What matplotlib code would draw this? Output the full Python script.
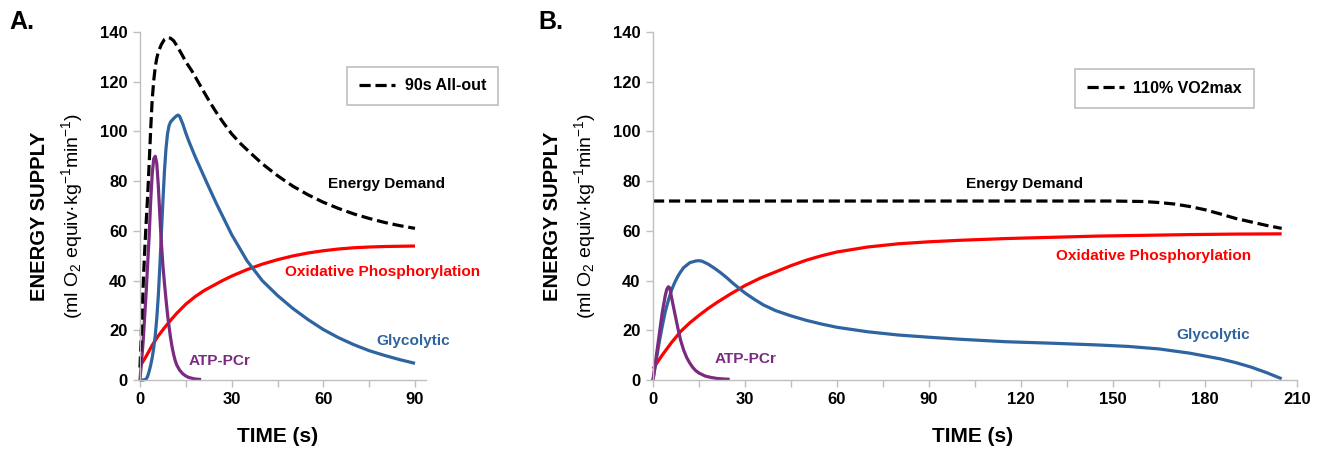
import matplotlib
matplotlib.use("Agg")
import matplotlib.pyplot as plt
from matplotlib.lines import Line2D

plt.rcParams['font.family'] = ['Liberation Sans', 'DejaVu Sans']
plt.rcParams['mathtext.fontset'] = 'custom'
plt.rcParams['mathtext.rm'] = 'Liberation Sans'
plt.rcParams['mathtext.it'] = 'Liberation Sans:italic'
plt.rcParams['mathtext.bf'] = 'Liberation Sans:bold'

# ---------------- Panel A data (90s All-out) ----------------
a_demand_t = [0, 0.5, 1, 1.5, 2, 2.5, 3, 3.5, 4, 4.5, 5, 5.5, 6, 7, 8, 9, 10, 11, 12, 13, 14, 15, 17, 19, 21, 23, 25, 27, 30, 33, 36, 40, 45, 50, 55, 60, 65, 70, 75, 80, 85, 90]
a_demand_v = [5, 21, 37, 51, 63, 74, 87, 101, 113, 120.5, 126, 129.5, 132, 135, 137, 137.8, 137.5, 136.5, 134.6, 132.5, 130.3, 128, 124.3, 120, 115.7, 111.5, 107.6, 104, 99, 95, 91.5, 87, 82.2, 78, 74.5, 71.5, 69, 66.8, 65, 63.4, 62.1, 61]

a_gly_t = [0, 1, 2, 2.5, 3, 3.5, 4, 4.5, 5, 5.5, 6, 6.5, 7, 7.5, 8, 8.5, 9, 9.5, 10, 11, 12, 12.5, 13, 14, 15, 16, 18, 20, 22, 25, 28, 30, 35, 40, 45, 50, 55, 60, 65, 70, 75, 80, 85, 90]
a_gly_v = [0, 0, 0.3, 1.5, 3.5, 6, 9, 13, 18, 25, 34, 46, 59, 72, 84, 93, 99, 102.3, 103.8, 105.2, 106.3, 106.6, 106, 103, 99.3, 96, 90, 84.5, 79, 71, 63.5, 58.5, 48, 40, 34, 28.8, 24.3, 20.3, 17, 14.2, 11.8, 9.9, 8.2, 6.7]

a_oxi_t = [0, 2, 4, 6, 8, 10, 12, 15, 18, 21, 24, 27, 30, 35, 40, 45, 50, 55, 60, 65, 70, 75, 80, 85, 90]
a_oxi_v = [5.5, 9.5, 14, 17.8, 21, 24, 26.8, 30.5, 33.5, 36, 38, 40, 41.8, 44.4, 46.6, 48.4, 49.9, 51.1, 52, 52.7, 53.2, 53.5, 53.7, 53.8, 53.9]

a_atp_t = [0, 1, 2, 3, 3.5, 4, 4.5, 5, 5.5, 6, 6.5, 7, 7.5, 8, 8.5, 9, 9.5, 10, 10.5, 11, 11.5, 12, 13, 14, 15, 16, 18, 20]
a_atp_v = [0, 15, 35, 58, 72, 83, 89, 90, 87, 78, 66, 55, 46, 39, 32.5, 26.5, 21.5, 17, 13.3, 10.3, 7.9, 6.1, 3.9, 2.5, 1.6, 1.0, 0.4, 0.2]

# ---------------- Panel B data (110% VO2max) ----------------
b_demand_t = [0, 30, 60, 90, 120, 150, 160, 165, 170, 175, 180, 185, 190, 195, 200, 205]
b_demand_v = [72, 72, 72, 72, 72, 72, 71.8, 71.4, 70.8, 69.8, 68.5, 66.8, 65, 63.6, 62.2, 61]

b_gly_t = [0, 1, 2, 3, 4, 5, 6, 7, 8, 9, 10, 12, 14, 15, 16, 18, 20, 22, 24, 26, 28, 30, 33, 36, 40, 45, 50, 55, 60, 70, 80, 90, 100, 115, 130, 145, 155, 165, 175, 185, 190, 195, 200, 205]
b_gly_v = [0, 7.5, 15, 21.5, 27.5, 32, 36, 39, 41.5, 43.5, 45.2, 47.2, 47.9, 48, 47.8, 46.6, 45, 43.2, 41.2, 39, 37, 35, 32.5, 30.2, 27.9, 25.8, 24, 22.5, 21.2, 19.4, 18.1, 17.2, 16.4, 15.4, 14.8, 14.1, 13.5, 12.5, 10.8, 8.5, 7, 5.2, 3, 0.5]

b_oxi_t = [0, 3, 6, 9, 12, 15, 18, 21, 25, 30, 35, 40, 45, 50, 55, 60, 70, 80, 90, 100, 115, 130, 145, 160, 175, 190, 205]
b_oxi_v = [4.5, 10, 15, 19.5, 23, 26, 28.8, 31.3, 34.4, 38, 41, 43.5, 46, 48.2, 50, 51.5, 53.5, 54.8, 55.6, 56.2, 56.9, 57.4, 57.9, 58.2, 58.5, 58.7, 58.8]

b_atp_t = [0, 1, 2, 3, 4, 4.5, 5, 5.5, 6, 7, 8, 9, 10, 11, 12, 13, 14, 15, 17, 19, 21, 23, 25]
b_atp_v = [0, 9, 18, 27, 34, 36.5, 37.5, 37, 33.5, 27.5, 21.5, 16, 12, 9, 6.8, 5, 3.7, 2.8, 1.6, 1, 0.6, 0.4, 0.3]

# ---------------- styling ----------------
BLUE = '#2e64a0'
RED = '#ff0000'
PURPLE = '#7a2a80'
GREY = '#bfbfbf'
LW = 2.3

fig = plt.figure(figsize=(13.2, 4.49), dpi=100)
W, H = 1320.0, 449.0

def make_axes(left_px, right_px, xmax, major, minor):
    ax = fig.add_axes([left_px / W, 69 / H, (right_px - left_px) / W, 348 / H])
    ax.set_xlim(0, xmax)
    ax.set_ylim(0, 140)
    for s in ['top', 'right']:
        ax.spines[s].set_visible(False)
    for s in ['left', 'bottom']:
        ax.spines[s].set_color(GREY)
        ax.spines[s].set_linewidth(1.0)
    ax.set_xticks(major)
    ax.set_xticks(minor, minor=True)
    ax.set_yticks(range(0, 141, 20))
    ax.tick_params(axis='both', which='both', direction='out', color=GREY, width=1.0, length=5)
    ax.tick_params(axis='both', which='major', labelsize=12, pad=4)
    for lab in ax.get_xticklabels() + ax.get_yticklabels():
        lab.set_fontweight('bold')
    ax.patch.set_alpha(0)
    return ax

axA = make_axes(140, 426, 93.6, [0, 30, 60, 90], [15, 45, 75])
axB = make_axes(653, 1297, 210, [0, 30, 60, 90, 120, 150, 180, 210], [15, 45, 75, 105, 135, 165, 195])

dash = (3.5, 1.5)
for ax, d, g, o, p in [
    (axA, (a_demand_t, a_demand_v), (a_gly_t, a_gly_v), (a_oxi_t, a_oxi_v), (a_atp_t, a_atp_v)),
    (axB, (b_demand_t, b_demand_v), (b_gly_t, b_gly_v), (b_oxi_t, b_oxi_v), (b_atp_t, b_atp_v)),
]:
    ax.plot(*o, color=RED, lw=LW, solid_capstyle='butt', solid_joinstyle='round', clip_on=False)
    ax.plot(*g, color=BLUE, lw=LW, solid_capstyle='butt', solid_joinstyle='round', clip_on=False)
    ax.plot(*p, color=PURPLE, lw=LW, solid_capstyle='butt', solid_joinstyle='round', clip_on=False)
    ax.plot(*d, color='black', lw=LW, dashes=dash, clip_on=False)

# axis titles placed as figure text
ylab2 = '(ml O$_2$ equiv\u00b7kg$^{-1}$min$^{-1}$)'
for xl1, xl2, xt in [(40, 72, 278), (553, 585, 973)]:
    fig.text(xl1 / W, 1 - 216 / H, 'ENERGY SUPPLY', rotation=90, fontsize=14.5,
             fontweight='bold', ha='center', va='center')
    fig.text(xl2 / W, 1 - 216 / H, ylab2, rotation=90, fontsize=14,
             ha='center', va='center')
    fig.text(xt / W, 1 - 436 / H, 'TIME (s)', fontsize=15, fontweight='bold',
             ha='center', va='center')

# panel letters
fig.text(9 / W, 1 - 22 / H, 'A.', fontsize=18, fontweight='bold', va='center', ha='left')
fig.text(538 / W, 1 - 22 / H, 'B.', fontsize=18, fontweight='bold', va='center', ha='left')

# annotations
tk = dict(fontsize=11.1, fontweight='bold', va='center', ha='left', clip_on=False)
axA.text(61.5, 79, 'Energy Demand', color='black', **tk)
axA.text(47.4, 43.6, 'Oxidative Phosphorylation', color=RED, **tk)
axA.text(77.4, 15.7, 'Glycolytic', color=BLUE, **tk)
axA.text(16.0, 7.6, 'ATP-PCr', color=PURPLE, **tk)

axB.text(102, 78.7, 'Energy Demand', color='black', **tk)
axB.text(131.3, 50, 'Oxidative Phosphorylation', color=RED, **tk)
axB.text(170.6, 18.1, 'Glycolytic', color=BLUE, **tk)
axB.text(20.1, 8.4, 'ATP-PCr', color=PURPLE, **tk)

# legends
def legend(ax, label, x0, x1, y0, y1):
    h = Line2D([], [], color='black', lw=LW, dashes=dash)
    leg = ax.legend([h], [label], loc='center',
                    bbox_to_anchor=((x0 + x1) / 2 / W, 1 - (y0 + y1) / 2 / H),
                    bbox_transform=fig.transFigure, frameon=True, fancybox=False,
                    edgecolor=GREY, framealpha=1, handlelength=2.3, handletextpad=0.6,
                    borderpad=0.75, borderaxespad=0,
                    prop={'weight': 'bold', 'size': 11.5})
    leg.get_frame().set_linewidth(1.2)

legend(axA, '90s All-out', 348, 497, 67, 105)
legend(axB, '110% VO2max', 1079, 1250, 70, 107)

fig.savefig('out.png', dpi=100)
